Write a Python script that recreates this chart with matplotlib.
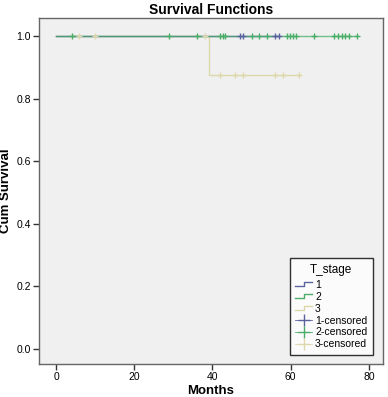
import numpy as np
import matplotlib
matplotlib.use("Agg")
import matplotlib.pyplot as plt
from matplotlib.lines import Line2D
from matplotlib.legend_handler import HandlerBase

plt.rcParams['font.family'] = ['Liberation Sans', 'DejaVu Sans']

# survival curves (step, post)
g1_times = [0, 56.9]
g1_surv = [1.0, 1.0]
g2_times = [0, 77.0]
g2_surv = [1.0, 1.0]
g3_times = [0, 39.0, 62.0]
g3_surv = [1.0, 0.875, 0.875]

# censored observations
g1_cens_t = [47.0, 47.8, 56.0, 56.9]
g1_cens_s = [1.0, 1.0, 1.0, 1.0]
g2_cens_t = [4.0, 29.0, 36.0, 42.0, 42.6, 43.3, 50.0, 52.0, 54.0, 59.1, 59.8,
             60.5, 61.3, 66.0, 71.0, 72.0, 73.0, 74.0, 75.0, 77.0]
g2_cens_s = [1.0] * len(g2_cens_t)
g3_cens_t = [6.0, 10.0, 38.0, 42.0, 45.7, 47.8, 56.0, 58.0, 62.0]
g3_cens_s = [1.0, 1.0, 1.0, 0.875, 0.875, 0.875, 0.875, 0.875, 0.875]

labels = ["1", "2", "3", "1-censored", "2-censored", "3-censored"]
c1 = "#5a62a0"
c2 = "#4aae68"
c3 = "#dcd8ac"


class StepHandler(HandlerBase):
    def create_artists(self, legend, orig, xd, yd, width, height, fontsize, trans):
        xs = [xd, xd + width * 0.55, xd + width * 0.55, xd + width]
        ys = [yd + height * 0.2, yd + height * 0.2, yd + height * 0.8, yd + height * 0.8]
        ln = Line2D(xs, ys, color=orig.get_color(), lw=1.0, transform=trans)
        return [ln]


fig = plt.figure(figsize=(3.88, 3.97), dpi=100)
ax = fig.add_axes([0.1005, 0.0831, 0.8866, 0.8716])
ax.set_facecolor("#f0f0f0")

ax.step(g3_times, g3_surv, where="post", color=c3, lw=1.0)
ax.step(g1_times, g1_surv, where="post", color=c1, lw=1.0)
ax.step(g2_times, g2_surv, where="post", color=c2, lw=1.0, alpha=0.75)
ax.plot(g3_cens_t, g3_cens_s, "+", color=c3, ms=5, mew=1.0)
ax.plot(g2_cens_t, g2_cens_s, "+", color=c2, ms=5, mew=1.0)
ax.plot(g1_cens_t, g1_cens_s, "+", color=c1, ms=5, mew=1.0)

ax.set_xlim(-4.35, 83.6)
ax.set_ylim(-0.048, 1.0575)
ax.set_xticks([0, 20, 40, 60, 80])
ax.set_yticks([0.0, 0.2, 0.4, 0.6, 0.8, 1.0])
ax.set_yticklabels(["0.0", "0.2", "0.4", "0.6", "0.8", "1.0"])
ax.tick_params(labelsize=7.5, length=4, width=1, color="#333333", pad=2)
for s in ax.spines.values():
    s.set_color("#666666")
    s.set_linewidth(1.0)

ax.set_title("Survival Functions", fontsize=10, fontweight="bold", pad=3)
ax.set_xlabel("Months", fontsize=9.5, fontweight="bold", labelpad=2)
ax.set_ylabel("Cum Survival", fontsize=9.5, fontweight="bold", labelpad=3)

h1 = Line2D([], [], color=c1)
h2 = Line2D([], [], color=c2)
h3 = Line2D([], [], color=c3)
h4 = Line2D([], [], color=c1, marker="+", ls="-", lw=0.6, ms=9)
h5 = Line2D([], [], color=c2, marker="+", ls="-", lw=0.6, ms=9)
h6 = Line2D([], [], color=c3, marker="+", ls="-", lw=0.6, ms=9)
leg = ax.legend([h1, h2, h3, h4, h5, h6], labels,
                handler_map={h1: StepHandler(), h2: StepHandler(), h3: StepHandler()},
                title="T_stage", loc="lower right", bbox_to_anchor=(0.971, 0.026),
                fontsize=7.5, title_fontsize=8.5, frameon=True, fancybox=False,
                edgecolor="black", handlelength=1.6, handletextpad=0.3,
                labelspacing=0.18, borderpad=0.55, borderaxespad=0)
leg.get_frame().set_linewidth(1.0)
leg.get_frame().set_facecolor("white")
leg._legend_box.sep = 3

fig.savefig("out.png", dpi=100)
